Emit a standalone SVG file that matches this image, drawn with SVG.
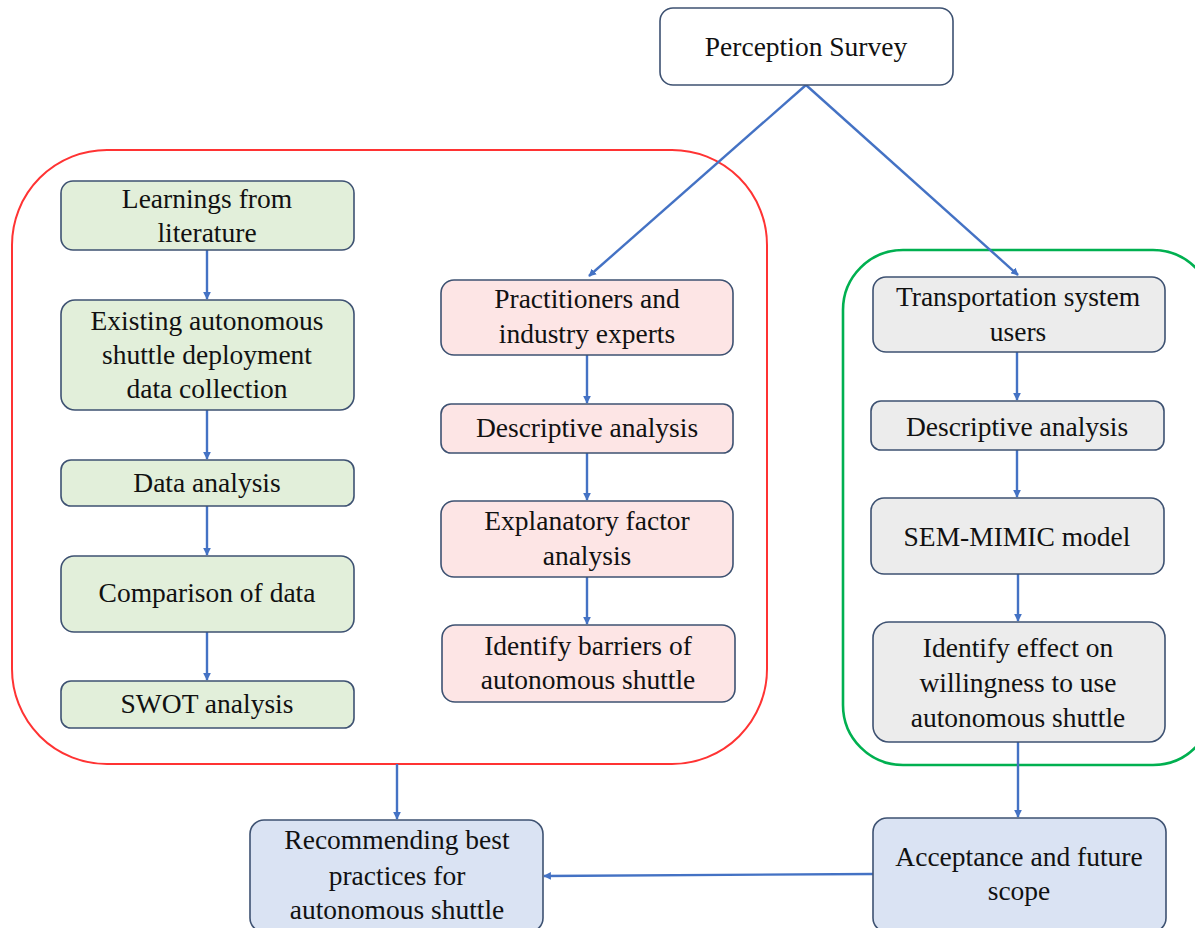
<svg xmlns="http://www.w3.org/2000/svg" width="1195" height="928" viewBox="0 0 1195 928">
<defs>
<marker id="ah" viewBox="0 0 10 10" refX="9" refY="5" markerWidth="3.2" markerHeight="3.2" orient="auto" markerUnits="strokeWidth">
<path d="M0,0 L10,5 L0,10 z" fill="#4472c4"/>
</marker>
<style>
.box{stroke:#3e5272;stroke-width:1.6}
.g{fill:#e2efda}
.p{fill:#fde5e5}
.y{fill:#ececec}
.b{fill:#dae3f3}
.w{fill:#ffffff}
text{font-size:27.5px;fill:#111;text-anchor:middle}
.c{stroke:#4472c4;stroke-width:2.4;fill:none;marker-end:url(#ah)}
</style>
</defs>
<rect width="1195" height="928" fill="#ffffff"/>
<g id="containers">
<rect id="red-group" x="12" y="150" width="755" height="614" rx="95" ry="95" fill="none" stroke="#ff3333" stroke-width="2"/>
<rect id="green-group" x="843" y="250" width="370" height="515" rx="60" ry="60" fill="none" stroke="#00b050" stroke-width="2.6"/>
</g>
<g id="connectors">
<line class="c" x1="806" y1="85" x2="589" y2="276"/>
<line class="c" x1="806" y1="85" x2="1018" y2="275"/>
<line class="c" x1="207" y1="250" x2="207" y2="299"/>
<line class="c" x1="207" y1="410" x2="207" y2="459"/>
<line class="c" x1="207" y1="506" x2="207" y2="555"/>
<line class="c" x1="207" y1="632" x2="207" y2="680"/>
<line class="c" x1="587" y1="355" x2="587" y2="403"/>
<line class="c" x1="587" y1="453" x2="587" y2="500"/>
<line class="c" x1="587" y1="577" x2="587" y2="624"/>
<line class="c" x1="1017" y1="352" x2="1017" y2="400"/>
<line class="c" x1="1017" y1="450" x2="1017" y2="497"/>
<line class="c" x1="1018" y1="574" x2="1018" y2="621"/>
<line class="c" x1="1018" y1="742" x2="1018" y2="817"/>
<line class="c" x1="397" y1="764" x2="397" y2="819"/>
<line class="c" x1="873" y1="874" x2="544" y2="876"/>
</g>
<g font-family="'Liberation Serif', 'DejaVu Serif', serif">
<g id="perception"><rect class="box w" x="660" y="8" width="293" height="77" rx="13"/><text x="806" y="56">Perception Survey</text></g>
<g id="learnings"><rect class="box g" x="61" y="181" width="293" height="69" rx="12"/><text x="207" y="208">Learnings from</text><text x="207" y="242">literature</text></g>
<g id="existing"><rect class="box g" x="61" y="300" width="293" height="110" rx="14"/><text x="207" y="330">Existing autonomous</text><text x="207" y="364">shuttle deployment</text><text x="207" y="398">data collection</text></g>
<g id="data-analysis"><rect class="box g" x="61" y="460" width="293" height="46" rx="10"/><text x="207" y="492">Data analysis</text></g>
<g id="comparison"><rect class="box g" x="61" y="556" width="293" height="76" rx="13"/><text x="207" y="602">Comparison of data</text></g>
<g id="swot"><rect class="box g" x="61" y="681" width="293" height="47" rx="10"/><text x="207" y="713">SWOT analysis</text></g>
<g id="practitioners"><rect class="box p" x="441" y="280" width="292" height="75" rx="13"/><text x="587" y="308">Practitioners and</text><text x="587" y="343">industry experts</text></g>
<g id="descriptive-mid"><rect class="box p" x="441" y="404" width="292" height="49" rx="10"/><text x="587" y="437">Descriptive analysis</text></g>
<g id="explanatory"><rect class="box p" x="441" y="501" width="292" height="76" rx="13"/><text x="587" y="530">Explanatory factor</text><text x="587" y="565">analysis</text></g>
<g id="barriers"><rect class="box p" x="442" y="625" width="293" height="77" rx="13"/><text x="588" y="655">Identify barriers of</text><text x="588" y="689">autonomous shuttle</text></g>
<g id="users"><rect class="box y" x="873" y="277" width="292" height="75" rx="13"/><text x="1018" y="306">Transportation system</text><text x="1018" y="341">users</text></g>
<g id="descriptive-right"><rect class="box y" x="871" y="401" width="293" height="49" rx="10"/><text x="1017" y="436">Descriptive analysis</text></g>
<g id="sem"><rect class="box y" x="871" y="498" width="293" height="76" rx="13"/><text x="1017" y="546">SEM-MIMIC model</text></g>
<g id="effect"><rect class="box y" x="873" y="622" width="292" height="120" rx="16"/><text x="1018" y="657">Identify effect on</text><text x="1018" y="692">willingness to use</text><text x="1018" y="727">autonomous shuttle</text></g>
<g id="recommending"><rect class="box b" x="250" y="820" width="293" height="112" rx="14"/><text x="397" y="849">Recommending best</text><text x="397" y="885">practices for</text><text x="397" y="919">autonomous shuttle</text></g>
<g id="acceptance"><rect class="box b" x="873" y="818" width="293" height="114" rx="14"/><text x="1019" y="866">Acceptance and future</text><text x="1019" y="900">scope</text></g>
</g>
</svg>
